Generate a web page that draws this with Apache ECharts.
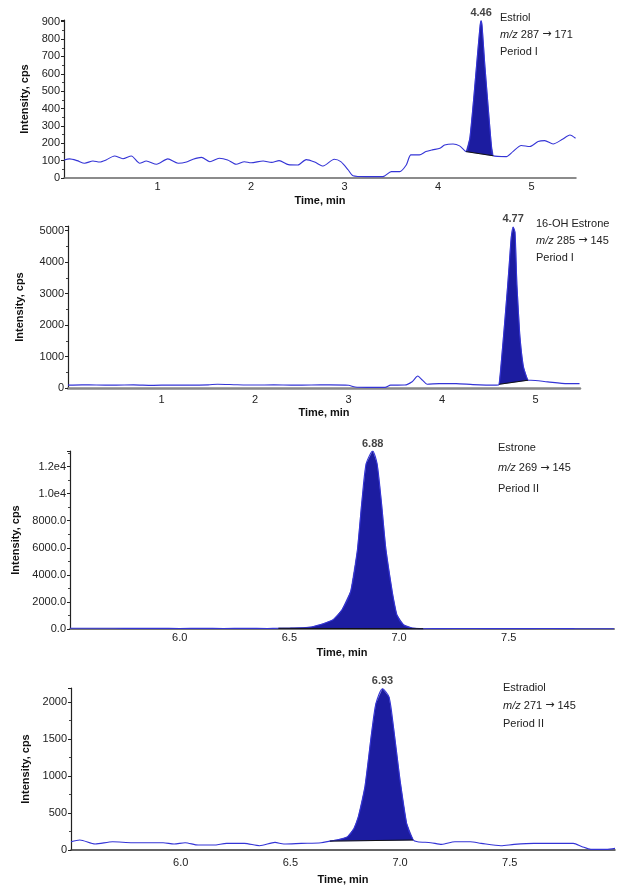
<!DOCTYPE html>
<html><head><meta charset="utf-8">
<script src="https://cdn.jsdelivr.net/npm/echarts@6/dist/echarts.min.js"></script>
<style>html,body{margin:0;padding:0;background:#fff}#chart{width:624px;height:895px}</style>
</head><body><div id="chart"></div>
<script>
const FONT = '"Liberation Sans", Arial, Helvetica, sans-serif';

// ---- data (time, min ; intensity, cps) ----
const estriolTrace = [[0.00,104],[0.06,110],[0.14,100],[0.22,85],[0.31,98],[0.38,92],[0.45,104],[0.54,127],[0.63,111],[0.72,127],[0.81,85],[0.88,98],[0.99,79],[1.11,110],[1.22,85],[1.31,92],[1.38,108],[1.47,119],[1.56,94],[1.66,114],[1.75,104],[1.84,79],[1.93,94],[2.00,88],[2.13,98],[2.22,90],[2.30,100],[2.40,77],[2.50,75],[2.59,106],[2.68,92],[2.77,69],[2.89,108],[2.96,94],[3.04,46],[3.09,13],[3.23,8],[3.41,8],[3.50,37],[3.59,37],[3.66,75],[3.71,133],[3.80,133],[3.87,152],[3.94,162],[4.02,171],[4.07,190],[4.16,196],[4.23,185],[4.30,152],[4.34,230],[4.38,450],[4.42,700],[4.45,880],[4.46,905],[4.47,880],[4.50,650],[4.54,380],[4.57,190],[4.59,128],[4.73,123],[4.80,152],[4.89,187],[4.98,181],[5.07,210],[5.14,215],[5.23,196],[5.33,223],[5.41,248],[5.47,229]];
const hydroxyEstroneTrace = [[0.00,90],[0.15,100],[0.30,95],[0.50,90],[0.70,100],[0.90,85],[1.10,95],[1.30,90],[1.50,100],[1.60,121],[1.80,105],[2.00,95],[2.20,100],[2.40,90],[2.60,95],[2.80,100],[3.00,85],[3.07,30],[3.20,20],[3.39,20],[3.45,90],[3.60,95],[3.68,200],[3.74,380],[3.79,250],[3.84,120],[3.97,140],[4.15,140],[4.33,108],[4.58,90],[4.61,118],[4.64,1050],[4.67,2100],[4.70,3200],[4.72,4000],[4.74,4800],[4.76,5120],[4.78,4950],[4.80,3300],[4.83,1730],[4.85,1100],[4.87,670],[4.90,380],[4.92,248],[4.95,248],[5.13,194],[5.34,140],[5.47,140]];
const estroneTrace = [[5.50,60],[5.60,55],[5.70,50],[5.80,45],[5.90,50],[6.00,40],[6.10,45],[6.20,40],[6.30,45],[6.40,40],[6.45,50],[6.50,60],[6.55,80],[6.60,150],[6.64,317],[6.67,480],[6.70,690],[6.74,1420],[6.78,2800],[6.81,5800],[6.83,9300],[6.85,12200],[6.88,13150],[6.90,12200],[6.92,9300],[6.94,5900],[6.97,2650],[6.99,1050],[7.02,317],[7.06,75],[7.11,20],[7.20,30],[7.30,40],[7.40,30],[7.50,25],[7.60,30],[7.70,35],[7.80,25],[7.90,20],[7.98,15]];
const estradiolTrace = [[5.50,112],[5.54,135],[5.61,81],[5.69,112],[5.78,99],[5.92,99],[5.97,81],[6.02,99],[6.08,67],[6.15,67],[6.21,90],[6.29,90],[6.36,58],[6.43,103],[6.47,81],[6.55,90],[6.64,99],[6.68,120],[6.72,140],[6.76,178],[6.79,290],[6.81,450],[6.84,854],[6.87,1573],[6.89,1978],[6.92,2180],[6.95,2067],[6.97,1663],[7.00,944],[7.03,360],[7.06,135],[7.08,112],[7.14,99],[7.19,76],[7.25,112],[7.32,112],[7.37,90],[7.46,58],[7.52,76],[7.61,90],[7.70,90],[7.79,90],[7.83,45],[7.87,9],[7.94,9],[7.98,22]];

const traces = [estriolTrace, hydroxyEstroneTrace, estroneTrace, estradiolTrace];
const peakStart = [4.30, 4.61, 6.45, 6.68];
const peakEnd = [4.59, 4.92, 7.11, 7.06];
const retentionTimes = [4.46, 4.77, 6.88, 6.93];
const compoundNames = ['Estriol', '16-OH Estrone', 'Estrone', 'Estradiol'];
const precursorIons = [287, 285, 269, 271];
const productIons = [171, 145, 145, 145];
const periods = ['Period I', 'Period I', 'Period II', 'Period II'];

// axes
const xMin = [0, 0, 5.5, 5.5];
const xMax = [5.475, 5.475, 7.98, 7.98];
const xStep = [1, 1, 0.5, 0.5];
const yMax = [910, 5150, 13150, 2190];
const yStep = [100, 1000, 2000, 500];

// ---- layout ----
const grids = [
  {left: 64, right: 48, top: 20, bottom: 717},
  {left: 68, right: 44, top: 226, bottom: 507},
  {left: 70, right: 10, top: 451, bottom: 266},
  {left: 71, right: 9, top: 688, bottom: 45}
];
const yNameGap = [30, 43, 48, 35];
const xNameGap = [17, 19, 18, 24];
const xLabelMargin = [3, 6, 3, 7];
const xAxisColor = ['#666', '#888', '#777', '#333'];
const xAxisWidth = [1.5, 2.5, 2, 1.5];
const annotPos = [[500, 19, 17], [536, 225, 17], [498, 449, 20.5], [503, 689, 18]];

const LINE = '#3434d6';
const FILL = '#1c1ca0';

function yFmt(i) {
  return function (v) {
    if (i === 2) {
      if (v >= 10000) return (v / 10000).toFixed(1) + 'e4';
      return v.toFixed(1);
    }
    return String(v);
  };
}

const xAxes = [], yAxes = [], series = [], graphics = [];
for (let i = 0; i < 4; i++) {
  xAxes.push({
    gridIndex: i, type: 'value', min: xMin[i], max: xMax[i], interval: xStep[i],
    name: 'Time, min', nameLocation: 'middle', nameGap: xNameGap[i],
    nameTextStyle: {fontFamily: FONT, fontSize: 11, fontWeight: 'bold', color: '#111'},
    axisLine: {show: true, onZero: false, lineStyle: {color: xAxisColor[i], width: xAxisWidth[i]}},
    axisTick: {show: false},
    splitLine: {show: false},
    axisLabel: {
      fontFamily: FONT, fontSize: 11, color: '#222', margin: xLabelMargin[i],
      showMinLabel: false, showMaxLabel: false,
      formatter: v => (i >= 2 ? v.toFixed(1) : String(v))
    }
  });
  yAxes.push({
    gridIndex: i, type: 'value', min: 0, max: yMax[i], interval: yStep[i],
    name: 'Intensity, cps', nameLocation: 'middle', nameRotate: 90, nameGap: yNameGap[i],
    nameTextStyle: {fontFamily: FONT, fontSize: 11, fontWeight: 'bold', color: '#111'},
    axisLine: {show: true, lineStyle: {color: '#222', width: 1.2}},
    axisTick: {show: true, length: 3, lineStyle: {color: '#222'}},
    minorTick: {show: true, splitNumber: 2, length: 2, lineStyle: {color: '#444'}},
    splitLine: {show: false},
    axisLabel: {fontFamily: FONT, fontSize: 11, color: '#222', margin: 4, showMaxLabel: false, formatter: yFmt(i)}
  });

  const tr = traces[i];
  const peakPts = tr.filter(p => p[0] >= peakStart[i] - 1e-9 && p[0] <= peakEnd[i] + 1e-9);
  const first = peakPts[0], last = peakPts[peakPts.length - 1];

  // integrated peak area (between trace and integration baseline)
  series.push({
    type: 'custom', xAxisIndex: i, yAxisIndex: i, coordinateSystem: 'cartesian2d',
    data: peakPts, encode: {x: 0, y: 1}, z: 2, silent: true,
    renderItem: function (params, api) {
      if (params.dataIndex !== 0) return null;
      return {
        type: 'polygon',
        shape: {points: peakPts.map(p => api.coord(p))},
        style: {fill: FILL, stroke: FILL, lineWidth: 0.5}
      };
    }
  });
  // integration baseline
  series.push({
    type: 'line', xAxisIndex: i, yAxisIndex: i, data: [first, last],
    showSymbol: false, silent: true, z: 4,
    lineStyle: {color: '#111', width: 1}
  });
  // chromatogram trace
  series.push({
    type: 'line', xAxisIndex: i, yAxisIndex: i, data: tr,
    showSymbol: false, silent: true, smooth: 0.25, z: 3,
    lineStyle: {color: LINE, width: 1.1}
  });
  // retention time label at apex
  let apex = tr[0];
  tr.forEach(p => { if (p[1] > apex[1]) apex = p; });
  series.push({
    type: 'scatter', xAxisIndex: i, yAxisIndex: i, data: [apex], symbolSize: 0, silent: true, z: 5,
    label: {
      show: true, position: 'top', distance: 2,
      formatter: () => retentionTimes[i].toFixed(2),
      fontFamily: FONT, fontSize: 11, fontWeight: 'bold', color: '#111'
    }
  });

  const [ax, ay, dy] = annotPos[i];
  const lines = [
    compoundNames[i],
    '{it|m/z} ' + precursorIons[i] + ' {ar|\u2192} ' + productIons[i],
    periods[i]
  ];
  lines.forEach((t, k) => {
    graphics.push({
      type: 'text', left: ax, top: ay + k * dy - 7,
      style: {
        text: t, fontFamily: FONT, fontSize: 11, fill: '#222',
        rich: {
          it: {fontStyle: 'italic', fontFamily: FONT, fontSize: 11, fill: '#222'},
          ar: {fontFamily: '"DejaVu Sans", sans-serif', fontSize: 11, fill: '#222'}
        }
      }
    });
  });
}

const chart = echarts.init(document.getElementById('chart'), null, {renderer: 'canvas'});
chart.setOption({
  animation: false,
  backgroundColor: '#fff',
  grid: grids,
  xAxis: xAxes,
  yAxis: yAxes,
  series: series,
  graphic: graphics
});
</script>
</body></html>
